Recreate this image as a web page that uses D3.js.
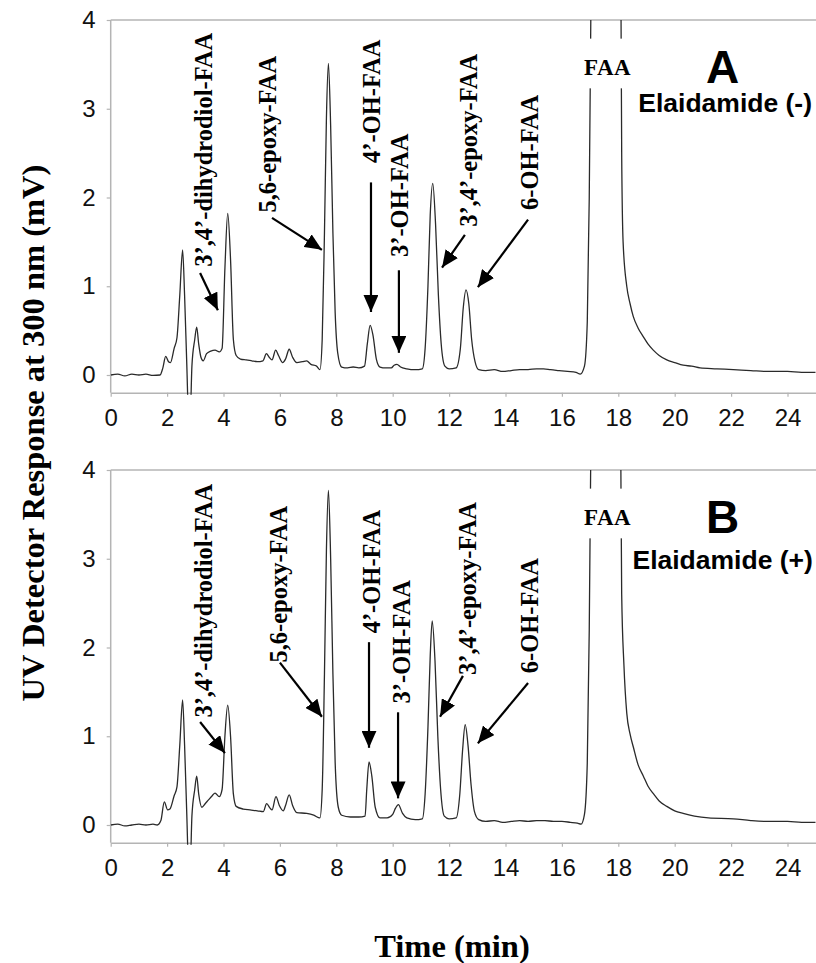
<!DOCTYPE html>
<html>
<head>
<meta charset="utf-8">
<script src="https://cdn.jsdelivr.net/npm/d3@7"></script>
<style>
  body { margin: 0; background: #fff; }
  svg { display: block; }
</style>
</head>
<body>
<svg id="chart" width="816" height="963"></svg>
<script>
// ---- data (time in min, response in mV) ----
var timeTicks = [0, 2, 4, 6, 8, 10, 12, 14, 16, 18, 20, 22, 24]
var responseTicks = [0, 1, 2, 3, 4]

var traceA = [
  [0,0.00],[0.25,0.01],[0.5,-0.01],[0.75,0.01],[1.0,0.00],[1.25,0.01],[1.5,-0.005],[1.75,0.00],
  [1.85,0.08],[1.95,0.21],[2.05,0.15],[2.12,0.14],[2.25,0.30],[2.35,0.42],[2.45,0.90],[2.55,1.41],
  [2.62,0.90],[2.70,0.10],[2.76,-0.45],[2.82,-0.45],[2.88,0.10],[2.98,0.40],[3.05,0.54],[3.12,0.35],
  [3.20,0.20],[3.28,0.16],[3.40,0.24],[3.55,0.27],[3.70,0.28],[3.85,0.26],[3.95,0.30],[4.05,1.20],
  [4.15,1.82],[4.25,1.30],[4.35,0.40],[4.45,0.22],[4.60,0.18],[4.80,0.17],[5.00,0.16],[5.20,0.15],
  [5.40,0.16],[5.52,0.24],[5.62,0.20],[5.72,0.17],[5.85,0.28],[5.95,0.22],[6.10,0.14],[6.20,0.18],
  [6.33,0.29],[6.45,0.20],[6.60,0.14],[6.80,0.15],[6.95,0.16],[7.10,0.12],[7.30,0.10],[7.42,0.06],
  [7.50,0.40],[7.58,1.60],[7.65,2.90],[7.72,3.51],[7.80,2.80],[7.88,1.60],[7.96,0.70],[8.05,0.25],
  [8.19,0.09],[8.40,0.08],[8.60,0.09],[8.80,0.08],[9.00,0.10],[9.10,0.35],[9.20,0.56],[9.30,0.45],
  [9.42,0.18],[9.55,0.09],[9.75,0.08],[9.95,0.08],[10.05,0.11],[10.15,0.12],[10.28,0.09],[10.50,0.07],
  [10.80,0.06],[11.05,0.07],[11.15,0.30],[11.25,1.00],[11.33,1.80],[11.42,2.16],[11.52,1.70],[11.62,0.90],
  [11.72,0.35],[11.85,0.10],[12.00,0.07],[12.25,0.08],[12.40,0.30],[12.50,0.75],[12.60,0.96],[12.70,0.80],
  [12.80,0.40],[12.92,0.15],[13.05,0.06],[13.30,0.05],[13.60,0.06],[13.90,0.04],[14.20,0.05],[14.50,0.06],
  [14.80,0.06],[15.10,0.07],[15.35,0.07],[15.60,0.06],[15.90,0.05],[16.20,0.04],[16.50,0.03],[16.65,0.01],
  [16.80,0.10],[16.90,0.60],[16.97,2.00],[17.03,4.20],[17.09,6.00],[17.50,8.00],[18.00,6.00],[18.09,4.50],
  [18.12,2.50],[18.17,1.50],[18.30,1.00],[18.42,0.80],[18.53,0.66],[18.70,0.53],[18.89,0.43],[19.05,0.35],
  [19.24,0.28],[19.45,0.22],[19.72,0.17],[20.00,0.14],[20.30,0.11],[20.60,0.10],[20.90,0.08],[21.50,0.07],
  [22.08,0.06],[22.70,0.05],[23.26,0.04],[24.00,0.04],[24.50,0.03],[25.00,0.03]
]

var traceB = [
  [0,0.00],[0.25,0.01],[0.5,-0.01],[0.75,0.00],[1.0,0.01],[1.25,0.00],[1.5,0.01],[1.65,0.00],
  [1.78,0.05],[1.90,0.26],[2.02,0.17],[2.10,0.18],[2.25,0.33],[2.35,0.43],[2.45,0.90],[2.55,1.41],
  [2.62,0.90],[2.70,0.10],[2.76,-0.45],[2.82,-0.45],[2.88,0.10],[2.98,0.40],[3.05,0.55],[3.12,0.35],
  [3.23,0.20],[3.35,0.24],[3.46,0.28],[3.60,0.33],[3.70,0.36],[3.85,0.32],[3.95,0.40],[4.05,1.00],
  [4.15,1.35],[4.25,1.00],[4.35,0.35],[4.45,0.21],[4.70,0.18],[4.94,0.17],[5.20,0.16],[5.41,0.15],
  [5.53,0.24],[5.65,0.19],[5.72,0.17],[5.86,0.32],[5.98,0.22],[6.12,0.16],[6.20,0.22],[6.33,0.34],
  [6.45,0.22],[6.60,0.14],[6.95,0.13],[7.20,0.11],[7.42,0.08],[7.50,0.40],[7.58,1.70],[7.65,3.10],
  [7.72,3.77],[7.80,3.00],[7.88,1.70],[7.96,0.70],[8.07,0.20],[8.19,0.11],[8.50,0.09],[8.80,0.09],
  [9.02,0.10],[9.08,0.40],[9.16,0.71],[9.26,0.55],[9.38,0.20],[9.55,0.08],[9.80,0.08],[10.00,0.12],
  [10.10,0.19],[10.20,0.23],[10.35,0.13],[10.50,0.08],[10.80,0.06],[11.05,0.07],[11.15,0.35],[11.25,1.10],
  [11.33,1.90],[11.40,2.30],[11.50,1.85],[11.60,1.00],[11.70,0.40],[11.83,0.10],[12.00,0.07],[12.25,0.08],
  [12.38,0.35],[12.48,0.85],[12.57,1.13],[12.67,0.90],[12.78,0.45],[12.90,0.15],[13.05,0.06],[13.30,0.04],
  [13.60,0.05],[13.90,0.03],[14.20,0.04],[14.50,0.05],[14.80,0.04],[15.10,0.05],[15.40,0.05],[15.70,0.04],
  [16.00,0.04],[16.30,0.03],[16.55,0.02],[16.68,0.01],[16.80,0.12],[16.90,0.70],[16.97,2.20],[17.03,4.40],
  [17.09,6.00],[17.50,8.00],[18.00,6.00],[18.08,4.60],[18.12,2.60],[18.20,1.80],[18.30,1.26],[18.42,1.02],
  [18.54,0.87],[18.70,0.68],[18.89,0.55],[19.05,0.44],[19.25,0.35],[19.45,0.27],[19.72,0.21],[20.00,0.16],
  [20.30,0.13],[20.70,0.10],[21.20,0.08],[22.08,0.07],[22.70,0.05],[23.30,0.04],[24.00,0.04],[24.50,0.03],
  [25.00,0.03]
]

var peakNames = ["3’,4’-dihydrodiol-FAA", "5,6-epoxy-FAA", "4’-OH-FAA", "3’-OH-FAA", "3’,4’-epoxy-FAA", "6-OH-FAA"]
// label foot [t, v] and arrow [tailT, tailV, tipT, tipV], in chart units
var labelFootA = [[3.60,1.22],[5.86,1.83],[9.55,2.39],[10.54,1.33],[12.99,1.67],[15.15,1.86]]
var arrowsA = [[3.17,1.15,3.80,0.73],[5.72,1.77,7.49,1.41],[9.23,2.17,9.23,0.71],[10.22,1.18,10.22,0.25],[12.56,1.58,11.75,1.21],[14.80,1.75,13.02,0.99]]
var labelFootB = [[3.60,1.21],[6.25,1.83],[9.55,2.16],[10.61,1.37],[12.95,1.69],[15.15,1.71]]
var arrowsB = [[3.17,1.16,4.05,0.81],[6.00,1.83,7.49,1.22],[9.16,2.06,9.16,0.87],[10.19,1.27,10.19,0.30],[12.49,1.68,11.68,1.22],[14.80,1.60,13.02,0.92]]

var panelLetters = ["A", "B"]
var conditions = ["Elaidamide (-)", "Elaidamide (+)"]
var conditionPos = [[24.87,2.96],[24.90,2.88]]

var svg = d3.select("#chart")
var serif = "'Liberation Serif', 'Times New Roman', serif"
var sans = "'Liberation Sans', Arial, sans-serif"
var axisGray = "#b4b4b4"

var x = d3.scaleLinear().domain([0, 25]).range([110.7, 815.7])

svg.append("defs").append("marker")
    .attr("id","head").attr("viewBox","0 0 10 10").attr("refX",10).attr("refY",5)
    .attr("markerUnits","userSpaceOnUse").attr("markerWidth",17).attr("markerHeight",15)
    .attr("preserveAspectRatio","none").attr("orient","auto")
  .append("path").attr("d","M0,0L10,5L0,10Z").attr("fill","#000")

var panels = [
  {top: 20, trace: traceA, feet: labelFootA, arrows: arrowsA},
  {top: 470, trace: traceB, feet: labelFootB, arrows: arrowsB}
]

panels.forEach(function(p, i){
    var y = d3.scaleLinear().domain([0, 4]).range([p.top + 355, p.top])
    var yBottom = y(-0.2)
    var g = svg.append("g")

    // clip for the trace
    var clipId = "clip" + i
    svg.select("defs").append("clipPath").attr("id", clipId)
      .append("rect").attr("x", x(0)).attr("y", p.top).attr("width", x(25) - x(0)).attr("height", yBottom - p.top + 2)

    // frame: top border, left and bottom axes
    g.append("line").attr("x1", x(0)).attr("x2", 816).attr("y1", p.top).attr("y2", p.top)
      .attr("stroke", axisGray).attr("stroke-width", 1.5)

    var xAxis = g.append("g").attr("transform", "translate(0," + yBottom + ")")
      .call(d3.axisBottom(x).tickValues(timeTicks).tickSize(4).tickPadding(12).tickSizeOuter(0))
    var yAxis = g.append("g").attr("transform", "translate(" + x(0) + ",0)")
      .call(d3.axisLeft(y).tickValues(responseTicks).tickFormat(d3.format("d")).tickSize(4).tickPadding(10).tickSizeOuter(0))
    yAxis.select(".domain").attr("d", "M0," + p.top + "V" + yBottom)

    ;[xAxis, yAxis].forEach(function(a){
        a.select(".domain").attr("stroke", axisGray).attr("stroke-width", 1.5)
        a.selectAll(".tick line").attr("stroke", axisGray).attr("stroke-width", 1.2)
        a.selectAll(".tick text").attr("fill", "#111").style("font-family", sans).style("font-size", "24px")
    })
    xAxis.selectAll(".tick text").attr("dy", "0.71em")
    yAxis.selectAll(".tick text").attr("dx", "-1px")

    // trace
    var line = d3.line().x(function(d){ return x(d[0]) }).y(function(d){ return y(d[1]) }).curve(d3.curveMonotoneX)
    g.append("path").datum(p.trace).attr("clip-path", "url(#" + clipId + ")")
      .attr("d", line).attr("fill", "none").attr("stroke", "#2a2a2a").attr("stroke-width", 1.3)

    // FAA label sits over the clipped peak
    g.append("rect").attr("x", x(16.75)).attr("y", y(3.79)).attr("width", x(18.5) - x(16.75)).attr("height", y(3.23) - y(3.79)).attr("fill", "#fff")
    g.append("text").attr("x", x(17.62)).attr("y", y(3.47)).attr("dy", "0.35em").attr("text-anchor", "middle")
      .style("font-family", serif).style("font-weight", "bold").style("font-size", "23px").style("letter-spacing", "0.5px")
      .text("FAA")

    // panel letter and condition
    g.append("text").attr("x", x(21.7)).attr("y", y(3.29)).attr("text-anchor", "middle")
      .style("font-family", sans).style("font-weight", "bold").style("font-size", "46px").text(panelLetters[i])
    g.append("text").attr("x", x(conditionPos[i][0])).attr("y", y(conditionPos[i][1])).attr("text-anchor", "end")
      .style("font-family", sans).style("font-weight", "bold").style("font-size", "26.5px").text(conditions[i])

    // peak labels
    p.feet.forEach(function(f, k){
        g.append("text").attr("transform", "translate(" + x(f[0]) + "," + y(f[1]) + ") rotate(-90)")
          .style("font-family", serif).style("font-weight", "bold").style("font-size", "24.5px")
          .text(peakNames[k])
    })
    p.arrows.forEach(function(a){
        g.append("line").attr("x1", x(a[0])).attr("y1", y(a[1])).attr("x2", x(a[2])).attr("y2", y(a[3]))
          .attr("stroke", "#000").attr("stroke-width", 2.2).attr("marker-end", "url(#head)")
    })
})

// axis titles
svg.append("text").attr("transform", "translate(44,433) rotate(-90)").attr("text-anchor", "middle")
  .style("font-family", serif).style("font-weight", "bold").style("font-size", "32.5px")
  .text("UV Detector Response at 300 nm (mV)")
svg.append("text").attr("x", 452).attr("y", 957).attr("text-anchor", "middle")
  .style("font-family", serif).style("font-weight", "bold").style("font-size", "32.5px")
  .text("Time (min)")
</script>
</body>
</html>
